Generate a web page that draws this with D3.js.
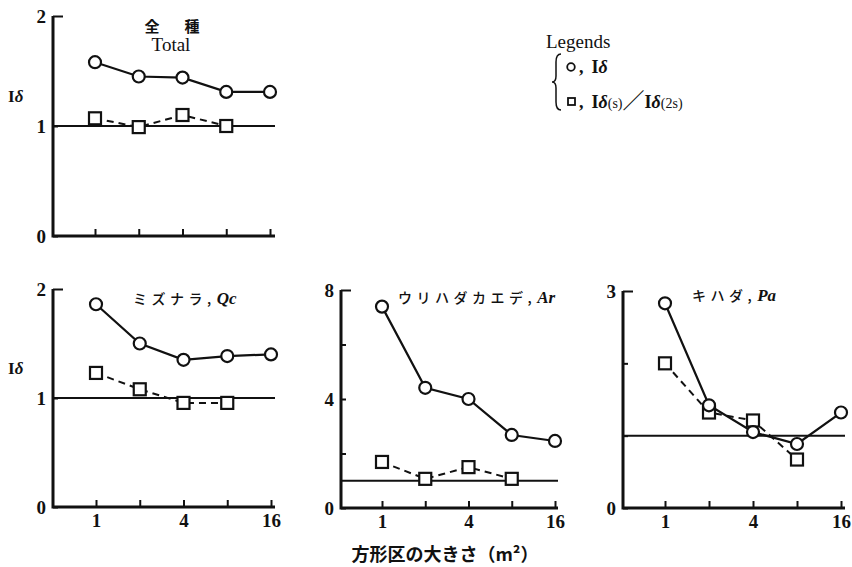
<!DOCTYPE html>
<html>
<head>
<meta charset="utf-8">
<script src="https://cdn.jsdelivr.net/npm/d3@7"></script>
<style>
  body { margin: 0; background: #fff; }
  svg { display: block; }
  .num { font-family: "Liberation Serif", serif; font-weight: bold; font-size: 19px; }
</style>
</head>
<body>
<svg id="chart" width="852" height="567"></svg>
<script>
// plot size (m2), plotted on a log2 axis
const sizes = [1, 2, 4, 8, 16];
const sizeLabels = [1, 4, 16];

// I-delta (circles) and I-delta(s)/I-delta(2s) (squares)
const totalI = [1.58, 1.45, 1.44, 1.31, 1.31];
const totalS = [1.07, 0.99, 1.10, 1.00];
const qcI = [1.86, 1.50, 1.35, 1.385, 1.40];
const qcS = [1.23, 1.08, 0.955, 0.955];
const arI = [7.39, 4.41, 4.00, 2.68, 2.46];
const arS = [1.69, 1.07, 1.50, 1.07];
const paI = [2.83, 1.42, 1.05, 0.885, 1.32];
const paS = [2.00, 1.32, 1.21, 0.67];

const panels = [
  { I: totalI, S: totalS, yMax: 2, yTicks: [0, 1, 2], yLabels: [0, 1, 2],
    x0: 53, xEnd: 275, xr: [95, 270], yTop: 16, y0: 236, xLabels: false, yTitle: true },
  { I: qcI, S: qcS, yMax: 2, yTicks: [0, 1, 2], yLabels: [0, 1, 2],
    x0: 53, xEnd: 275, xr: [96, 271], yTop: 289, y0: 507, xLabels: true, yTitle: true,
    title: ["ミズナラ", "Qc"], tx: 133, ty: 304 },
  { I: arI, S: arS, yMax: 8, yTicks: [0, 2, 4, 6, 8], yLabels: [0, 4, 8],
    x0: 341, xEnd: 558, xr: [382, 555], yTop: 290, y0: 508, xLabels: true,
    title: ["ウリハダカエデ", "Ar"], tx: 398, ty: 303 },
  { I: paI, S: paS, yMax: 3, yTicks: [0, 1, 2, 3], yLabels: [0, 3],
    x0: 623, xEnd: 845, xr: [665, 841], yTop: 291, y0: 508, xLabels: true,
    title: ["キハダ", "Pa"], tx: 692, ty: 301 }
];

const svg = d3.select("#chart");
const ink = "#111";

panels.forEach(p => {
  const x = d3.scaleLog().base(2).domain([1, 16]).range(p.xr);
  const y = d3.scaleLinear().domain([0, p.yMax]).range([p.y0, p.yTop]);
  const g = svg.append("g");

  // reference line at I-delta = 1
  g.append("line")
    .attr("x1", p.x0).attr("x2", p.xEnd)
    .attr("y1", y(1)).attr("y2", y(1))
    .attr("stroke", ink).attr("stroke-width", 2);

  // x ticks (inward)
  const xa = g.append("g")
    .attr("transform", `translate(0,${p.y0})`)
    .call(d3.axisBottom(x).tickValues(sizes).tickSize(-7).tickPadding(7)
      .tickFormat(d => p.xLabels && sizeLabels.includes(d) ? d : ""));
  xa.select(".domain").remove();
  xa.selectAll("line").attr("stroke", ink).attr("stroke-width", 2);
  xa.selectAll("text").attr("class", "num").attr("fill", ink);

  // y ticks (inward)
  const ya = g.append("g")
    .attr("transform", `translate(${p.x0},0)`)
    .call(d3.axisLeft(y).tickValues(p.yTicks).tickSize(-5).tickPadding(7)
      .tickFormat(d => p.yLabels.includes(d) ? d : ""));
  ya.select(".domain").remove();
  ya.selectAll("line").attr("stroke", ink).attr("stroke-width", 2)
    .attr("x2", d => d === p.yMax ? 10 : 5);
  ya.selectAll("text").attr("class", "num").attr("fill", ink);

  // axis frame
  g.append("path")
    .attr("d", `M${p.x0},${p.yTop}V${p.y0}H${p.xEnd}`)
    .attr("fill", "none").attr("stroke", ink).attr("stroke-width", 3)
    .attr("stroke-linejoin", "miter");

  const line = d3.line().x((d, i) => x(sizes[i])).y(d => y(d));

  g.append("path").datum(p.S).attr("d", line)
    .attr("fill", "none").attr("stroke", ink).attr("stroke-width", 2)
    .attr("stroke-dasharray", "7,5");
  g.append("path").datum(p.I).attr("d", line)
    .attr("fill", "none").attr("stroke", ink).attr("stroke-width", 2.2);

  g.selectAll(".sq").data(p.S).join("rect")
    .attr("x", (d, i) => x(sizes[i]) - 6).attr("y", d => y(d) - 6)
    .attr("width", 12).attr("height", 12)
    .attr("fill", "#fff").attr("stroke", ink).attr("stroke-width", 2.2);
  g.selectAll(".ci").data(p.I).join("circle")
    .attr("cx", (d, i) => x(sizes[i])).attr("cy", d => y(d)).attr("r", 6)
    .attr("fill", "#fff").attr("stroke", ink).attr("stroke-width", 2.2);

  if (p.yTitle) {
    const t = g.append("text").attr("x", 8).attr("y", y(1.22))
      .attr("font-family", "Liberation Serif, serif").attr("font-size", 17)
      .attr("font-weight", "bold").attr("fill", ink);
    t.append("tspan").text("I");
    t.append("tspan").attr("font-style", "italic").text("δ");
  }

  if (p.title) {
    const t = g.append("text").attr("x", p.tx).attr("y", p.ty).attr("fill", ink);
    t.append("tspan").attr("font-family", "Noto Sans CJK JP").attr("font-size", 14)
      .attr("font-weight", 500).attr("letter-spacing", 4.5).text(p.title[0] + ",");
    t.append("tspan").attr("dx", 1).attr("font-family", "Liberation Serif, serif")
      .attr("font-size", 17).attr("font-weight", "bold").attr("font-style", "italic")
      .text(p.title[1]);
  }
});

// top panel title
const tt = svg.append("g").attr("fill", ink)
  .attr("font-family", "Noto Sans CJK JP").attr("font-size", 15).attr("font-weight", "bold")
  .attr("text-anchor", "middle");
tt.append("text").attr("x", 152).attr("y", 32).text("全");
tt.append("text").attr("x", 192).attr("y", 32).text("種");
svg.append("text").attr("x", 171).attr("y", 51).attr("text-anchor", "middle")
  .attr("font-family", "Liberation Serif, serif").attr("font-size", 19)
  .attr("fill", ink).text("Total");

// legend
const lg = svg.append("g").attr("fill", ink);
lg.append("text").attr("x", 546).attr("y", 48)
  .attr("font-family", "Liberation Serif, serif").attr("font-size", 19).text("Legends");
lg.append("path")
  .attr("d", "M561,54 Q556,54 556,62 L556,76 Q556,82 552,82 Q556,82 556,88 L556,102 Q556,110 561,110")
  .attr("fill", "none").attr("stroke", ink).attr("stroke-width", 1.5);
lg.append("circle").attr("cx", 571).attr("cy", 67).attr("r", 3.8)
  .attr("fill", "none").attr("stroke", ink).attr("stroke-width", 1.8);
const l1 = lg.append("text").attr("x", 579).attr("y", 73)
  .attr("font-family", "Liberation Serif, serif").attr("font-size", 18).attr("font-weight", "bold");
l1.append("tspan").text(",");
l1.append("tspan").attr("dx", 8).text("I");
l1.append("tspan").attr("font-style", "italic").text("δ");
lg.append("rect").attr("x", 568).attr("y", 98).attr("width", 7).attr("height", 7)
  .attr("fill", "none").attr("stroke", ink).attr("stroke-width", 1.8);
const l2 = lg.append("text").attr("x", 579).attr("y", 108)
  .attr("font-family", "Liberation Serif, serif").attr("font-size", 18).attr("font-weight", "bold");
l2.append("tspan").text(",");
l2.append("tspan").attr("dx", 8).text("I");
l2.append("tspan").attr("font-style", "italic").text("δ");
l2.append("tspan").attr("font-size", 14).attr("font-weight", "normal").text("(s)");
l2.append("tspan").attr("font-family", "Noto Sans CJK JP").attr("font-size", 22)
  .attr("font-weight", "normal").text("／");
l2.append("tspan").text("I");
l2.append("tspan").attr("font-style", "italic").text("δ");
l2.append("tspan").attr("font-size", 14).attr("font-weight", "normal").text("(2s)");

// x axis title
svg.append("text").attr("x", 445).attr("y", 561).attr("text-anchor", "middle")
  .attr("font-family", "Noto Sans CJK JP").attr("font-size", 18).attr("font-weight", "bold")
  .attr("fill", ink).text("方形区の大きさ（m²）");
</script>
</body>
</html>
